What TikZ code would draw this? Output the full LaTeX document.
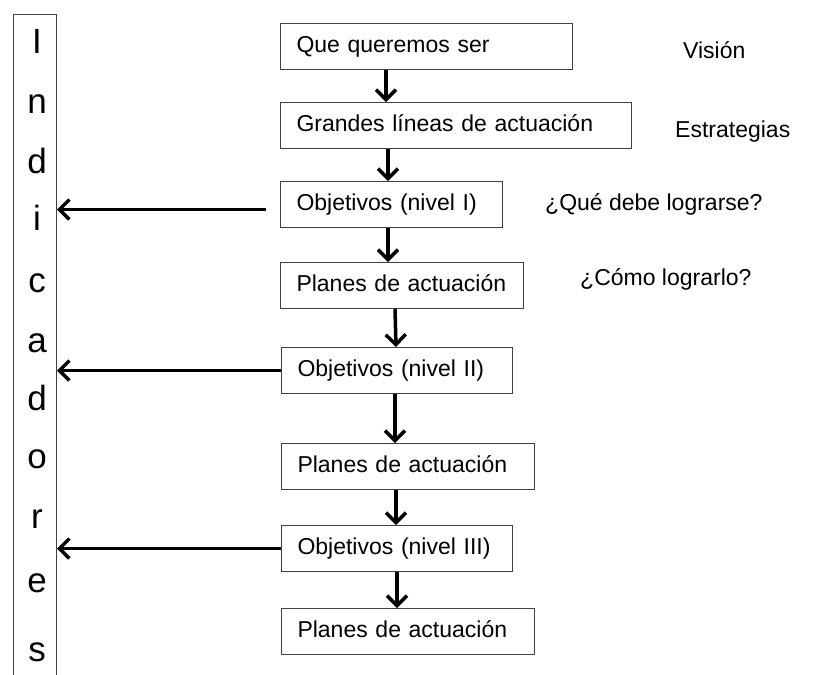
\documentclass[tikz,border=0pt]{standalone}
\usepackage{fontspec}
\setmainfont{Liberation Sans}
\usepackage{tikz}
\usetikzlibrary{ arrows.meta, % For the barbed arrow tips
                 positioning, % For easy node-relative placements
               }
\tikzstyle{caja} = [rectangle, anchor=north west, draw=black!75, line width=1pt,
                    minimum height=46pt, inner xsep=16pt, align=left,
                    text height=17pt, text depth=5pt, font=\fontsize{23}{27}\selectfont]
\tikzstyle{nota} = [anchor=base west, inner sep=0pt, font=\fontsize{23}{27}\selectfont]
\tikzstyle{letra} = [anchor=base, inner sep=0pt, font=\fontsize{35}{40}\selectfont]
\tikzstyle{flecha} = [-{Straight Barb[length=10pt,width=20pt]}, line width=3.5pt]

\begin{document}
\begin{tikzpicture}[x=1pt, y=-1pt]
  \useasboundingbox (0,0) rectangle (815,675);

  % columna de indicadores
  \node (ind) [rectangle, anchor=north west, draw=black!75, line width=1pt,
               minimum width=43pt, minimum height=700pt] at (13,14) {};
  \foreach \l/\y [count=\i] in {I/53, n/113, d/173, i/230, c/292, a/352,
                                d/410, o/468, r/528, e/592, s/661}
    \node (l\i) [letra] at (37,\y) {\l};

  % cadena central
  \node (n1) [caja, text width=260pt] at (280,23)  {Que queremos ser};
  \node (n2) [caja, text width=319pt] at (280,102) {Grandes líneas de actuación};
  \node (n3) [caja, text width=190pt] at (280,181) {Objetivos (nivel I)};
  \node (n4) [caja, text width=211pt] at (280,262) {Planes de actuación};
  \node (n5) [caja, text width=199pt] at (281,347) {Objetivos (nivel II)};
  \node (n6) [caja, text width=221pt] at (281,443) {Planes de actuación};
  \node (n7) [caja, text width=199pt] at (281,525) {Objetivos (nivel III)};
  \node (n8) [caja, text width=221pt] at (281,608) {Planes de actuación};

  \draw [flecha] ([xshift=106pt]n1.south west) -- ([xshift=106pt]n2.north west);
  \draw [flecha] ([xshift=108pt]n2.south west) -- ([xshift=108pt]n3.north west);
  \draw [flecha] ([xshift=108pt]n3.south west) -- ([xshift=108pt]n4.north west);
  \draw [flecha] ([xshift=115pt]n4.south west) -- ([xshift=115pt]n5.north west);
  \draw [flecha] ([xshift=114pt]n5.south west) -- ([xshift=114pt]n6.north west);
  \draw [flecha] ([xshift=115pt]n6.south west) -- ([xshift=115pt]n7.north west);
  \draw [flecha] ([xshift=116pt]n7.south west) -- ([xshift=116pt]n8.north west);

  % hacia los indicadores
  \coordinate (c1) at ([xshift=-14pt,yshift=-5pt]n3.west);
  \draw [flecha] (c1) -- (c1 -| ind.east);
  \draw [flecha] (n5.west) -- (n5.west -| ind.east);
  \draw [flecha] (n7.west) -- (n7.west -| ind.east);

  % etiquetas de la derecha
  \node (vis) [nota] at (683,58)  {Visión};
  \node (est) [nota] at (675,137) {Estrategias};
  \node (que) [nota] at (545,210) {¿Qué debe lograrse?};
  \node (com) [nota] at (580,285) {¿Cómo lograrlo?};
\end{tikzpicture}
\end{document}
